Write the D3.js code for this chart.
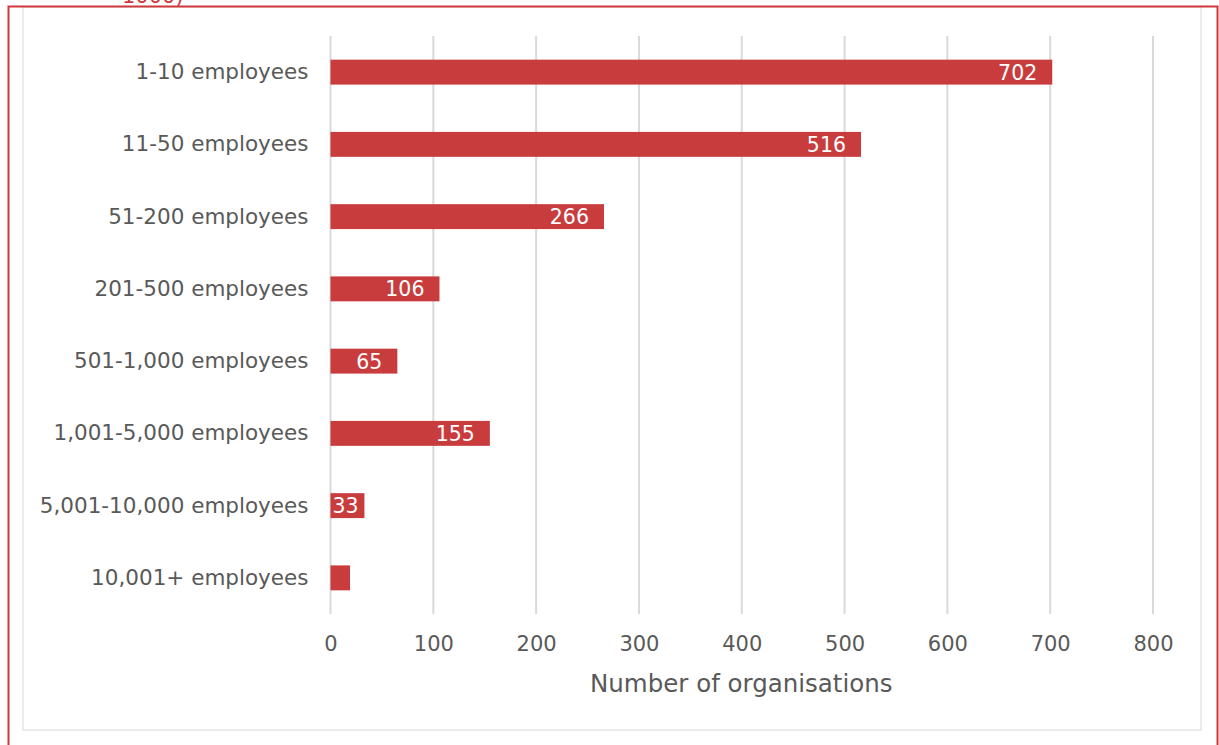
<!DOCTYPE html>
<html>
<head>
<meta charset="utf-8">
<script src="https://cdn.jsdelivr.net/npm/d3@7"></script>
<style>
  html, body { margin: 0; padding: 0; background: #fff; overflow: hidden; }
  svg { display: block; }
  text { font-family: "DejaVu Sans", sans-serif; }
</style>
</head>
<body>
<svg id="chart" width="1219" height="745"></svg>
<script>
// Organisation size bands and counts
const categories = [
  "1-10 employees",
  "11-50 employees",
  "51-200 employees",
  "201-500 employees",
  "501-1,000 employees",
  "1,001-5,000 employees",
  "5,001-10,000 employees",
  "10,001+ employees"
];
const counts = [702, 516, 266, 106, 65, 155, 33, 19];
const valueLabels = ["702", "516", "266", "106", "65", "155", "33", ""];
const xTicks = [0, 100, 200, 300, 400, 500, 600, 700, 800];
const xTitle = "Number of organisations";
const captionTail = "1000)";

const FONT = "\"DejaVu Sans\", sans-serif";
const GREY = "#595959";

const svg = d3.select("#chart");
const W = 1219, H = 745;
const margin = { left: 330.5, right: 66, top: 36, bottom: 131 };

const x = d3.scaleLinear().domain([0, 800]).range([margin.left, W - margin.right]);
const y = d3.scaleBand().domain(categories).range([margin.top, H - margin.bottom])
  .paddingInner(0.655).paddingOuter(0.3275);

// Inner grey panel and outer red frame
svg.append("rect").attr("x", 23).attr("y", 7).attr("width", 1178).attr("height", 723)
  .attr("fill", "#fff").attr("stroke", "#d9d9d9").attr("stroke-width", 1);
svg.append("path")
  .attr("d", "M8.5,745 V6.5 H1217.5 V745")
  .attr("fill", "none").attr("stroke", "#d0393c").attr("stroke-width", 2);
svg.append("text").attr("x", 122).attr("y", 3).attr("fill", "#d0393c")
  .attr("font-size", 21).text(captionTail);

// Vertical gridlines
svg.append("g").selectAll("line").data(xTicks).join("line")
  .attr("x1", d => x(d)).attr("x2", d => x(d))
  .attr("y1", margin.top).attr("y2", H - margin.bottom)
  .attr("stroke", "#d9d9d9").attr("stroke-width", 2);

// Bars
svg.append("g").selectAll("rect").data(counts).join("rect")
  .attr("x", x(0))
  .attr("y", (d, i) => y(categories[i]))
  .attr("width", d => x(d) - x(0))
  .attr("height", y.bandwidth())
  .attr("fill", "#c93c3d");

// Value labels at the inside end of each bar, kept within the bar start
svg.append("g").selectAll("text").data(counts).join("text")
  .attr("y", (d, i) => y(categories[i]) + y.bandwidth() / 2 + 7.5)
  .attr("fill", "#fff")
  .attr("font-size", 20.5)
  .text((d, i) => valueLabels[i])
  .attr("x", function (d) {
    const w = this.getComputedTextLength();
    return Math.max(x(d) - 15 - w, x(0) + 2);
  });

// Category axis
const yAxis = d3.axisLeft(y).tickSize(0).tickPadding(22);
const gy = svg.append("g").attr("transform", `translate(${x(0)},0)`).call(yAxis);
gy.select(".domain").remove();
gy.selectAll("text").attr("font-size", 21.5).attr("fill", GREY).style("font-family", FONT);

// Value axis
const xAxis = d3.axisBottom(x).tickValues(xTicks).tickSize(0).tickPadding(22);
const gx = svg.append("g").attr("transform", `translate(0,${H - margin.bottom})`).call(xAxis);
gx.select(".domain").remove();
gx.selectAll("text").attr("font-size", 21).attr("fill", GREY).style("font-family", FONT);

svg.append("text")
  .attr("x", (x(0) + x(800)) / 2 - 0.5)
  .attr("y", 692)
  .attr("text-anchor", "middle")
  .attr("fill", GREY)
  .attr("font-size", 24.5)
  .text(xTitle);
</script>
</body>
</html>
